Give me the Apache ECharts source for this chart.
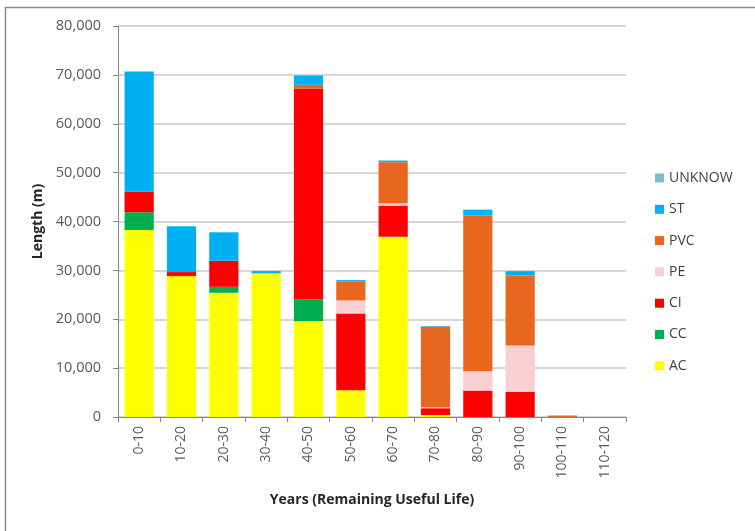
<!DOCTYPE html>
<html>
<head>
<meta charset="utf-8">
<title>Remaining Useful Life by Material</title>
<script src="https://cdn.jsdelivr.net/npm/echarts@6/dist/echarts.min.js"></script>
<style>
  html, body { margin: 0; padding: 0; background: #fff; }
  #chart { width: 755px; height: 531px; }
</style>
</head>
<body>
<div id="chart"></div>
<script>
// Remaining-useful-life bands (years)
const categories = ['0-10', '10-20', '20-30', '30-40', '40-50', '50-60', '60-70', '70-80', '80-90', '90-100', '100-110', '110-120'];

// Pipe length (m) per material, stacked bottom to top
const AC     = [38260, 28830, 25410, 29380, 19610, 5470, 36800, 400, 0, 0, 0, 0];
const CC     = [3630, 0, 1230, 0, 4450, 0, 100, 0, 0, 0, 0, 0];
const CI     = [4210, 820, 5330, 0, 43090, 15720, 6350, 1400, 5410, 5120, 0, 0];
const PE     = [0, 0, 0, 0, 0, 2660, 490, 200, 3950, 9490, 0, 0];
const PVC    = [0, 0, 0, 0, 820, 3890, 8400, 16500, 31830, 14350, 300, 0];
const ST     = [24600, 9370, 5820, 480, 1910, 270, 330, 100, 1230, 880, 0, 0];
const UNKNOW = [0, 0, 0, 0, 0, 0, 0, 0, 0, 0, 0, 0];

const yTicks = { min: 0, max: 80000, interval: 10000 };

const materials = [
  { name: 'AC', data: AC, color: '#FFFF00' },
  { name: 'CC', data: CC, color: '#00B050' },
  { name: 'CI', data: CI, color: '#FF0000' },
  { name: 'PE', data: PE, color: '#F8CFD2' },
  { name: 'PVC', data: PVC, color: '#E8661E' },
  { name: 'ST', data: ST, color: '#00B0F0' },
  { name: 'UNKNOW', data: UNKNOW, color: '#7FB9D2' }
];

const font = '"Open Sans", "Liberation Sans", sans-serif';
const chart = echarts.init(document.getElementById('chart'), null, { renderer: 'canvas' });

chart.setOption({
  animation: false,
  textStyle: { fontFamily: font },
  graphic: [{
    type: 'rect',
    shape: { x: 5.5, y: 7.5, width: 800, height: 600 },
    style: { fill: 'none', stroke: '#8a8a8a', lineWidth: 1.5 },
    silent: true,
    z: -1
  }],
  grid: { left: 118, right: 129, top: 26, bottom: 114 },
  legend: {
    orient: 'vertical',
    left: 650,
    top: 165,
    itemWidth: 9,
    itemHeight: 9,
    itemGap: 15.3,
    icon: 'rect',
    data: materials.map(m => m.name).reverse(),
    textStyle: { fontFamily: font, fontSize: 14, color: '#404040', lineHeight: 16 }
  },
  xAxis: {
    type: 'category',
    data: categories,
    name: 'Years (Remaining Useful Life)',
    nameLocation: 'middle',
    nameGap: 76,
    nameTextStyle: { fontFamily: font, fontSize: 14, fontWeight: 'bold', color: '#262626' },
    axisLine: { lineStyle: { color: '#868686', width: 1 } },
    axisTick: { show: true, length: 5, lineStyle: { color: '#868686' } },
    axisLabel: { rotate: 90, fontSize: 14, color: '#595959', margin: 9, fontFamily: font }
  },
  yAxis: {
    type: 'value',
    min: yTicks.min,
    max: yTicks.max,
    interval: yTicks.interval,
    name: 'Length (m)',
    nameLocation: 'middle',
    nameGap: 71,
    nameTextStyle: { fontFamily: font, fontSize: 14, fontWeight: 'bold', color: '#262626' },
    axisLine: { show: true, lineStyle: { color: '#868686', width: 1 } },
    axisTick: { show: true, length: 5, lineStyle: { color: '#868686' } },
    axisLabel: {
      fontSize: 14.5,
      color: '#595959',
      margin: 17,
      fontFamily: font,
      formatter: v => v.toLocaleString('en-US')
    },
    splitLine: { lineStyle: { color: '#C8C8C8', width: 1.5 } }
  },
  series: materials.map(m => ({
    name: m.name,
    type: 'bar',
    stack: 'length',
    data: m.data,
    barCategoryGap: '31%',
    itemStyle: { color: m.color },
    emphasis: { disabled: true }
  }))
});
</script>
</body>
</html>
